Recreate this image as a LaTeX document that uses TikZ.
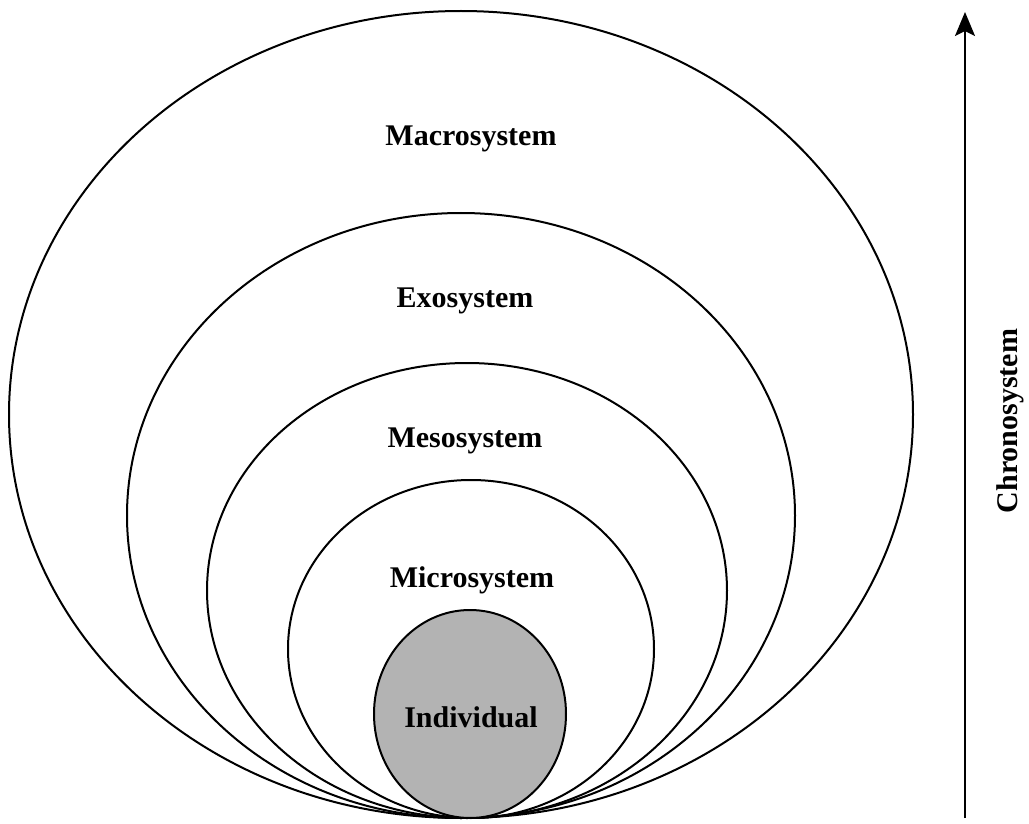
\documentclass[tikz,border=0pt]{standalone}
\usepackage{fontspec}
\setmainfont{Liberation Serif}
\usetikzlibrary{arrows.meta}
\definecolor{indgray}{HTML}{B3B3B3}
\begin{document}
\begin{tikzpicture}[x=1pt,y=-1pt,
  ring/.style={draw=black,line width=2pt},
  lbl/.style={font=\fontsize{30}{36}\selectfont\bfseries,anchor=base,inner sep=0pt}]
\useasboundingbox[fill=white] (0,0) rectangle (1029,824);
% nested systems
\draw[ring] (461,414.5) ellipse [x radius=452pt, y radius=403.5pt];
\draw[ring] (461,515.5) ellipse [x radius=334pt, y radius=302.5pt];
\draw[ring] (467,590.5) ellipse [x radius=260pt, y radius=227.5pt];
\draw[ring] (471,649) ellipse [x radius=183pt, y radius=169pt];
\draw[ring,fill=indgray] (470,714) ellipse [x radius=96pt, y radius=104pt];
% labels
\node[lbl] (macro) at (471,146) {Macrosystem};
\node[lbl] (exo) at (465,307) {Exosystem};
\node[lbl] (meso) at (465,447) {Mesosystem};
\node[lbl] (micro) at (472,587) {Microsystem};
\node[lbl] (ind) at (471,727) {Individual};
% chronosystem arrow
\coordinate (cbot) at (965,818);
\coordinate (ctop) at (965,12);
\draw[line width=2pt,-{Stealth[length=24pt,width=20pt,inset=5pt]}] (cbot) -- (ctop);
\node[font=\fontsize{30}{36}\selectfont\bfseries,rotate=90,inner sep=0pt] (chrono) at (1010,421) {Chronosystem};
\end{tikzpicture}
\end{document}
